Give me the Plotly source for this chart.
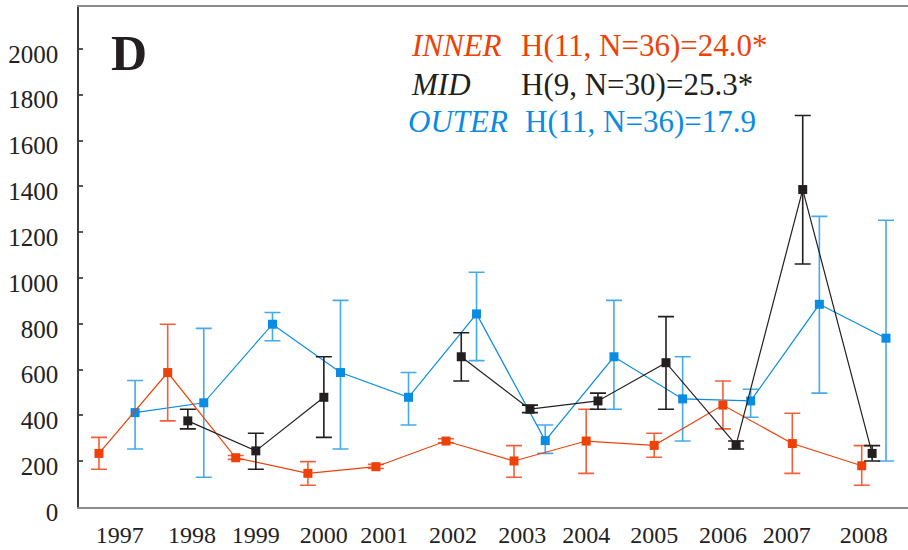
import plotly.graph_objects as go

# ---- data ----
inner_x = [1996.70, 1997.69, 1998.67, 1999.71, 2000.69, 2001.70, 2002.68, 2003.72, 2004.70, 2005.69, 2006.69, 2007.69]
inner_y = [234, 587, 215, 147, 176, 288, 201, 288, 269, 445, 277, 180]
inner_hi = [304, 798, 225, 198, 186, 298, 268, 427, 322, 550, 409, 268]
inner_lo = [165, 376, 208, 95, 168, 280, 130, 147, 217, 341, 147, 95]

# MID has no sample in 2001 (gap in the line)
mid_x = [1997.98, 1998.96, 1999.94, 2000.93, 2001.92, 2002.91, 2003.89, 2004.87, 2005.88, 2006.84, 2007.84]
mid_y = [376, 245, 479, None, 656, 427, 463, 630, 271, 1386, 234]
mid_hi = [427, 322, 656, None, 761, 445, 497, 831, 288, 1709, 268]
mid_lo = [341, 165, 304, None, 550, 412, 427, 427, 253, 1061, 201]

outer_x = [1997.22, 1998.21, 1999.20, 2000.18, 2001.16, 2002.14, 2003.13, 2004.12, 2005.11, 2006.09, 2007.08, 2008.04]
outer_y = [412, 455, 798, 587, 479, 843, 290, 656, 472, 463, 885, 737]
outer_hi = [552, 780, 849, 902, 587, 1025, 358, 902, 656, 514, 1269, 1252]
outer_lo = [253, 130, 726, 253, 358, 639, 234, 427, 288, 392, 497, 201]

year_labels = ["1997", "1998", "1999", "2000", "2001", "2002", "2003", "2004", "2005", "2006", "2007", "2008"]
year_pos = [1997.00, 1998.04, 1998.96, 1999.94, 2000.81, 2001.80, 2002.80, 2003.72, 2004.70, 2005.69, 2006.61, 2007.72]

y_ticks = [0, 200, 400, 600, 800, 1000, 1200, 1400, 1600, 1800, 2000]

RED = "#EE4108"
RED_EB = "#F2603A"
BLACK = "#231F20"
BLUE = "#0A8CE2"
BLUE_EB = "#45AAEC"


def series(x, y, hi, lo, color, ebcolor, name):
    up = [None if v is None else h - v for h, v in zip(hi, y)]
    dn = [None if v is None else v - l for v, l in zip(y, lo)]
    return go.Scatter(
        x=x, y=y, mode="lines+markers", name=name,
        line=dict(color=color, width=1.2),
        marker=dict(symbol="square", size=9, color=color),
        error_y=dict(type="data", symmetric=False, array=up, arrayminus=dn,
                     color=ebcolor, thickness=1.6, width=8),
        connectgaps=False,
        showlegend=False,
    )


fig = go.Figure()
fig.add_trace(series(outer_x, outer_y, outer_hi, outer_lo, BLUE, BLUE_EB, "OUTER"))
fig.add_trace(series(inner_x, inner_y, inner_hi, inner_lo, RED, RED_EB, "INNER"))
fig.add_trace(series(mid_x, mid_y, mid_hi, mid_lo, BLACK, BLACK, "MID"))

SERIF = "Liberation Serif"
TXT = "#222222"

fig.update_layout(
    width=908, height=550,
    margin=dict(l=79, r=0, t=7, b=43, autoexpand=False),
    paper_bgcolor="white", plot_bgcolor="white",
    font=dict(family=SERIF, size=24, color=TXT),
    xaxis=dict(
        range=[1996.412, 2008.357], tickvals=year_pos, ticktext=year_labels,
        showgrid=False, zeroline=False, showline=True, linecolor="#8c8c8c",
        linewidth=2, mirror=True, ticks="", ticklabelstandoff=5,
        automargin=False,
        tickfont=dict(family=SERIF, size=24, color=TXT),
    ),
    yaxis=dict(
        range=[0, 2183], tickvals=y_ticks, showgrid=False, zeroline=False,
        showline=True, linecolor="#3a3a3a", linewidth=1.5,
        ticks="inside", ticklen=4, tickcolor="#555", tickwidth=1.5,
        ticklabelstandoff=14, ticklabelshift=5, automargin=False,
        tickfont=dict(family=SERIF, size=25, color=TXT),
    ),
)


def px_x(px):
    return (px - 79) / 829.0


def px_y(py):
    return (507 - py) / 500.0


ann = [
    dict(text="<b>D</b>", x=px_x(129), y=px_y(53), size=50, color="#231F20", xa="center"),
    dict(text="<i>INNER</i>", x=px_x(410), y=px_y(46), size=31, color=RED, xa="left"),
    dict(text="H(11, N=36)=24.0*", x=px_x(520), y=px_y(46), size=31, color=RED, xa="left"),
    dict(text="<i>MID</i>", x=px_x(410), y=px_y(84), size=31, color=BLACK, xa="left"),
    dict(text="H(9, N=30)=25.3*", x=px_x(520), y=px_y(84), size=31, color=BLACK, xa="left"),
    dict(text="<i>OUTER</i>", x=px_x(407), y=px_y(122), size=31, color=BLUE, xa="left"),
    dict(text="H(11, N=36)=17.9", x=px_x(524), y=px_y(122), size=31, color=BLUE, xa="left"),
]
for a in ann:
    fig.add_annotation(
        text=a["text"], x=a["x"], y=a["y"], xref="paper", yref="paper",
        xanchor=a["xa"], yanchor="middle", showarrow=False,
        font=dict(family=SERIF, size=a["size"], color=a["color"]),
        borderpad=0,
    )

fig.write_html("out.html")
